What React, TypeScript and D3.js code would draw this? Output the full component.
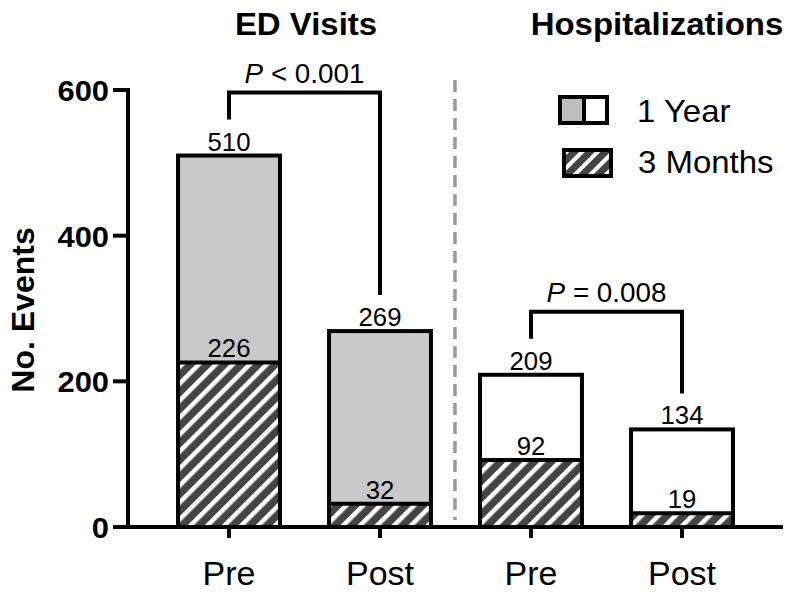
import React from "react";
import * as d3 from "d3";

const groups = ["ED Visits", "Hospitalizations"];
const categories = ["Pre", "Post", "Pre", "Post"];
const groupOfBar = [0, 0, 1, 1];
const oneYear = [510, 269, 209, 134];
const threeMonths = [226, 32, 92, 19];
const yTicks = [0, 200, 400, 600];
const pLabels = ["< 0.001", "= 0.008"];
const legendLabels = ["1 Year", "3 Months"];

const FONT = "'Liberation Sans', Arial, Helvetica, sans-serif";
const SX = 1.03;

function T({ x, y, size, bold, anchor = "middle", children }: any) {
  return (
    <text
      transform={`translate(${x},${y}) scale(${SX},1)`}
      fontSize={size}
      fontWeight={bold ? "bold" : "normal"}
      textAnchor={anchor}
      fontFamily={FONT}
      fill="#000"
    >
      {children}
    </text>
  );
}

export default function App() {
  const W = 800, H = 595;
  const ids = categories.map((_, i) => String(i));
  const x = d3.scaleBand<string>().domain(ids).range([153.5, 757.5]).paddingInner(0.325).paddingOuter(0.1625);
  const y = d3.scaleLinear().domain([0, 600]).range([527, 90]);
  const bw = x.bandwidth();
  const cx = (i: number) => (x(ids[i]) as number) + bw / 2;
  const topFill = ["#c8c8c8", "#ffffff"];

  const brackets = [
    [0, 1],
    [2, 3],
  ];

  return (
    <svg width={W} height={H} style={{ position: "absolute", left: 0, top: 0 }}>
      <defs>
        <pattern id="hatch" patternUnits="userSpaceOnUse" width={12} height={12} patternTransform="rotate(45)">
          <rect width={12} height={12} fill="#444" />
          <rect x={0} width={4.5} height={12} fill="#fff" />
        </pattern>
        <pattern id="hatchL" patternUnits="userSpaceOnUse" width={11} height={11} patternTransform="rotate(45)">
          <rect width={11} height={11} fill="#444" />
          <rect x={0} width={4} height={11} fill="#fff" />
        </pattern>
      </defs>
      <rect width={W} height={H} fill="#fff" />

      {/* titles */}
      <T x={306} y={35} size={32} bold>{groups[0]}</T>
      <T x={657} y={35} size={32} bold>{groups[1]}</T>

      {/* divider */}
      <line x1={455} x2={455} y1={80} y2={520} stroke="#9a9a9a" strokeWidth={3.5} strokeDasharray="12 7" />

      {/* bars */}
      {oneYear.map((v, i) => {
        const x0 = x(ids[i]) as number;
        const yt = y(v);
        const ym = y(threeMonths[i]);
        return (
          <g key={i}>
            <rect x={x0} y={yt} width={bw} height={y(0) - yt} fill={topFill[groupOfBar[i]]} />
            <rect x={x0} y={ym} width={bw} height={y(0) - ym} fill="url(#hatch)" />
            <line x1={x0} x2={x0 + bw} y1={ym} y2={ym} stroke="#000" strokeWidth={4} />
            <rect x={x0} y={yt} width={bw} height={y(0) - yt} fill="none" stroke="#000" strokeWidth={4} />
            <T x={cx(i)} y={yt - 5} size={25}>{String(v)}</T>
            <T x={cx(i)} y={ym - 5} size={25}>{String(threeMonths[i])}</T>
          </g>
        );
      })}

      {/* axes */}
      <line x1={128} x2={128} y1={y(600) - 2} y2={y(0) + 2} stroke="#000" strokeWidth={4} />
      {yTicks.map((t) => (
        <g key={t}>
          <line x1={113} x2={128} y1={y(t)} y2={y(t)} stroke="#000" strokeWidth={4} />
          <T x={109} y={y(t) + 11} size={30} bold anchor="end">{String(t)}</T>
        </g>
      ))}
      <line x1={126} x2={783} y1={y(0)} y2={y(0)} stroke="#000" strokeWidth={4} />
      {categories.map((c, i) => (
        <g key={i}>
          <line x1={cx(i)} x2={cx(i)} y1={y(0)} y2={y(0) + 11} stroke="#000" strokeWidth={4} />
          <T x={cx(i)} y={585} size={33}>{c}</T>
        </g>
      ))}
      <text
        transform={`translate(34,${310}) rotate(-90)`}
        fontSize={32}
        fontWeight="bold"
        textAnchor="middle"
        fontFamily={FONT}
      >
        No. Events
      </text>

      {/* brackets */}
      {brackets.map(([a, b], k) => {
        const ya = y(oneYear[a]) - 36;
        const yb = y(oneYear[b]) - 36;
        const yh = Math.min(ya, yb) - 27;
        const xa = cx(a), xb = cx(b);
        return (
          <g key={k}>
            <path d={`M${xa},${ya}V${yh}H${xb}V${yb}`} fill="none" stroke="#000" strokeWidth={4} />
            <text
              transform={`translate(${(xa + xb) / 2},${yh - 10}) scale(${SX},1)`}
              fontSize={27}
              textAnchor="middle"
              fontFamily={FONT}
            >
              <tspan fontStyle="italic">P</tspan>
              <tspan>{" " + pLabels[k]}</tspan>
            </text>
          </g>
        );
      })}

      {/* legend */}
      <g>
        <rect x={560} y={97} width={24} height={26} fill="#bdbdbd" />
        <rect x={584} y={97} width={23} height={26} fill="#fff" />
        <rect x={560} y={97} width={47} height={26} fill="none" stroke="#000" strokeWidth={4} />
        <line x1={584} x2={584} y1={97} y2={123} stroke="#000" strokeWidth={4} />
        <T x={637} y={122} size={32} anchor="start">{legendLabels[0]}</T>
        <rect x={564} y={150} width={47} height={26} fill="url(#hatchL)" stroke="#000" strokeWidth={4} />
        <T x={638} y={173} size={32} anchor="start">{legendLabels[1]}</T>
      </g>
    </svg>
  );
}
